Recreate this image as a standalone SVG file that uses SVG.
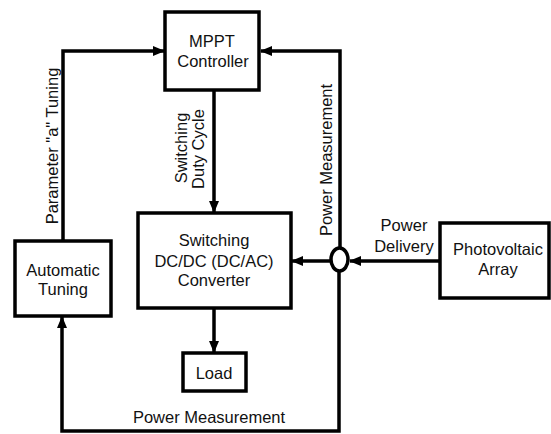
<svg xmlns="http://www.w3.org/2000/svg" width="551" height="434" viewBox="0 0 551 434">
<style>
.box{fill:#fff;stroke:#000;stroke-width:3.5}
.ln{fill:none;stroke:#000;stroke-width:3.5}
text{font-family:"Liberation Sans",Arial,sans-serif;font-size:16.5px;fill:#111;text-anchor:middle}
</style>
<defs>
<marker id="ah" markerWidth="12" markerHeight="10" refX="11" refY="5" orient="auto" markerUnits="userSpaceOnUse">
<path d="M0,0 L12,5 L0,10 Z" fill="#000"/>
</marker>
</defs>
<rect width="551" height="434" fill="#fff"/>
<g id="connectors">
<path class="ln" d="M63,241 V51 H164" marker-end="url(#ah)"/>
<path class="ln" d="M340,248 V51 H261" marker-end="url(#ah)"/>
<path class="ln" d="M214,90 V212" marker-end="url(#ah)"/>
<path class="ln" d="M214,308 V352" marker-end="url(#ah)"/>
<path class="ln" d="M440,261 H350" marker-end="url(#ah)"/>
<path class="ln" d="M330,261 H292" marker-end="url(#ah)"/>
<path class="ln" d="M339,272 V431 H62 V317" marker-end="url(#ah)"/>
<ellipse cx="339.5" cy="259.5" rx="8.5" ry="11.5" fill="#fff" stroke="#000" stroke-width="3.5"/>
<text transform="translate(58,146) rotate(-90)">Parameter "a" Tuning</text>
<text transform="translate(187,148) rotate(-90)">Switching</text>
<text transform="translate(204,149) rotate(-90)">Duty Cycle</text>
<text transform="translate(332,160) rotate(-90)">Power Measurement</text>
<text x="404" y="231">Power</text>
<text x="404" y="252">Delivery</text>
<text x="209" y="423">Power Measurement</text>
</g>
<g id="mppt">
<rect class="box" x="165" y="12" width="94" height="78"/>
<text x="212" y="47">MPPT</text>
<text x="213" y="67">Controller</text>
</g>
<g id="converter">
<rect class="box" x="138" y="213" width="153" height="95"/>
<text x="214" y="246">Switching</text>
<text x="214" y="267">DC/DC (DC/AC)</text>
<text x="214" y="286">Converter</text>
</g>
<g id="tuning">
<rect class="box" x="15" y="241" width="96" height="75"/>
<text x="63" y="276">Automatic</text>
<text x="63" y="295">Tuning</text>
</g>
<g id="load">
<rect class="box" x="183" y="353" width="63" height="38"/>
<text x="214" y="379">Load</text>
</g>
<g id="pv">
<rect class="box" x="440" y="223" width="109" height="75"/>
<text x="498" y="255">Photovoltaic</text>
<text x="498" y="275">Array</text>
</g>
</svg>
